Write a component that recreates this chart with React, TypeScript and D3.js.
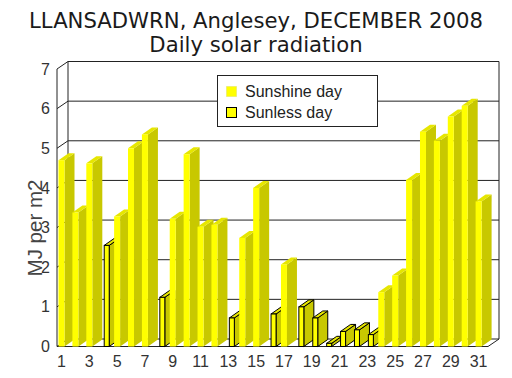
import React from 'react';
import * as d3 from 'd3';

const DAYS = [1, 2, 3, 4, 5, 6, 7, 8, 9, 10, 11, 12, 13, 14, 15, 16, 17, 18, 19, 20, 21, 22, 23, 24, 25, 26, 27, 28, 29, 30, 31];
const RADIATION = [4.7, 3.38, 4.62, 2.55, 3.28, 5.0, 5.35, 1.24, 3.22, 4.85, 3.02, 3.07, 0.72, 2.74, 4.0, 0.82, 2.07, 1.0, 0.72, 0.08, 0.38, 0.42, 0.3, 1.37, 1.79, 4.2, 5.42, 5.19, 5.8, 6.07, 3.66];
const SUNLESS_DAYS = [4, 8, 13, 16, 18, 19, 20, 21, 22, 23];
const Y_TICKS = [0, 1, 2, 3, 4, 5, 6, 7];
const X_TICK_LABELS = [1, 3, 5, 7, 9, 11, 13, 15, 17, 19, 21, 23, 25, 27, 29, 31];
const TITLE_LINES = ['LLANSADWRN, Anglesey, DECEMBER 2008', 'Daily solar radiation'];
const Y_TITLE = 'MJ per m2';
const LEGEND_LABELS = ['Sunshine day', 'Sunless day'];

export default function App() {
  const W = 512;
  const H = 378;
  const x = d3.scaleBand<number>().domain(DAYS).range([57, 488]).padding(0);
  const y = d3.scaleLinear().domain([0, 7]).range([346.5, 69]);
  const DX = 11;
  const DY = 7.5;
  const faceOff = 1.5;
  const faceW = 6;
  const bdx = 10;
  const bdy = 7;
  const left = 57;
  const right = 488;
  const lineCol = '#222';
  const font = '"Liberation Sans", Arial, sans-serif';

  const pts = (a: number[][]) => a.map((p) => p.join(',')).join(' ');

  return (
    <svg width={W} height={H} style={{ position: 'absolute', left: 0, top: 0, background: '#fff' }}>
      <rect x={0} y={0} width={W} height={H} fill="#fff" />
      {/* title */}
      <text x={256} y={28} textAnchor="middle" fontFamily='"DejaVu Sans", Verdana, sans-serif' fontSize={21.2} fill="#1a1a1a">
        {TITLE_LINES[0]}
      </text>
      <text x={256} y={52} textAnchor="middle" fontFamily='"DejaVu Sans", Verdana, sans-serif' fontSize={21.2} fill="#1a1a1a">
        {TITLE_LINES[1]}
      </text>

      {/* back wall gridlines */}
      {Y_TICKS.map((t) => (
        <g key={'g' + t}>
          <line x1={left} y1={y(t)} x2={left + DX} y2={y(t) - DY} stroke={lineCol} strokeWidth={1} />
          {t > 0 && (
            <line x1={left + DX} y1={y(t) - DY} x2={right + DX} y2={y(t) - DY} stroke={lineCol} strokeWidth={1} />
          )}
        </g>
      ))}
      <line x1={left + DX} y1={y(7) - DY} x2={left + DX} y2={y(0) - DY} stroke={lineCol} strokeWidth={1} />
      <line x1={right + DX} y1={y(7) - DY} x2={right + DX} y2={y(0) - DY} stroke={lineCol} strokeWidth={1} />
      {/* floor */}
      <polygon
        points={pts([
          [left, y(0)],
          [right, y(0)],
          [right + DX, y(0) - DY],
          [left + DX, y(0) - DY],
        ])}
        fill="#fff"
        stroke={lineCol}
        strokeWidth={1}
      />
      <line x1={left} y1={y(7)} x2={left} y2={y(0)} stroke={lineCol} strokeWidth={1} />

      {/* bars */}
      {DAYS.map((d, i) => {
        const v = RADIATION[i];
        const sunless = SUNLESS_DAYS.includes(d);
        const x0 = (x(d) as number) + faceOff + (sunless ? 4 : 0);
        const fw = sunless ? 5 : faceW;
        const x1 = x0 + fw;
        const yt = y(v);
        const yb = y(0);
        const stroke = sunless ? '#000' : 'none';
        return (
          <g key={'b' + d}>
            <polygon
              points={pts([
                [x1, yt],
                [x1 + bdx, yt - bdy],
                [x1 + bdx, yb - bdy],
                [x1, yb],
              ])}
              fill="#c8c800"
              stroke={stroke}
              strokeWidth={1}
            />
            <polygon
              points={pts([
                [x0, yt],
                [x1, yt],
                [x1 + bdx, yt - bdy],
                [x0 + bdx, yt - bdy],
              ])}
              fill="#e6e600"
              stroke={stroke}
              strokeWidth={1}
            />
            <rect x={x0} y={yt} width={fw} height={yb - yt} fill="#ffff00" stroke={stroke} strokeWidth={1} />
          </g>
        );
      })}

      {/* y tick labels */}
      {Y_TICKS.map((t) => (
        <text key={'yt' + t} x={50} y={y(t)} dy="0.35em" textAnchor="end" fontFamily={font} fontSize={16} fill="#333">
          {t}
        </text>
      ))}
      {/* x tick labels */}
      {X_TICK_LABELS.map((d) => (
        <text
          key={'xt' + d}
          x={(x(d) as number) + faceOff + faceW / 2}
          y={367}
          textAnchor="middle"
          fontFamily={font}
          fontSize={16}
          fill="#333"
        >
          {d}
        </text>
      ))}
      {/* y title */}
      <text
        transform="translate(42,228) rotate(-90)"
        textAnchor="middle"
        fontFamily={font}
        fontSize={20.5}
        fill="#444"
      >
        {Y_TITLE}
      </text>

      {/* legend */}
      <rect x={217.5} y={75.5} width={160} height={51} fill="#fff" stroke="#222" strokeWidth={1} />
      <rect x={226.5} y={86.5} width={10} height={10} fill="#ffff00" stroke="#e0e060" strokeWidth={1} strokeDasharray="1,1" />
      <text x={245} y={97} fontFamily={font} fontSize={16} fill="#222">
        {LEGEND_LABELS[0]}
      </text>
      <rect x={226.5} y={107.5} width={10} height={10} fill="#ffff00" stroke="#000" strokeWidth={1} />
      <text x={245} y={118} fontFamily={font} fontSize={16} fill="#222">
        {LEGEND_LABELS[1]}
      </text>
    </svg>
  );
}
